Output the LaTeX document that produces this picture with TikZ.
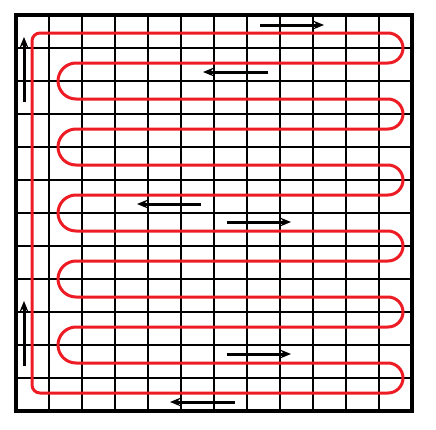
\documentclass[tikz,border=0pt]{standalone}
\usetikzlibrary{arrows.meta}
\definecolor{pipered}{HTML}{ED1C24}
\tikzset{
  gridline/.style={line width=1.5pt, black},
  frameline/.style={line width=3pt, black},
  pipe/.style={line width=2.25pt, pipered, line join=round},
  flowarrow/.style={line width=2.25pt, black, -{Stealth[length=8pt,width=6.5pt]}},
}
\begin{document}
\begin{tikzpicture}[x=0.75pt,y=0.75pt]
\fill[white] (0,0) rectangle (436,-429);
\useasboundingbox (0,0) rectangle (436,-429);
% grid
\foreach \i in {1,...,11}{
  \draw[gridline] ({16+33*\i},-15) -- ({16+33*\i},-411);
  \draw[gridline] (16,{-15-33*\i}) -- (412,{-15-33*\i});
}
\draw[frameline] (16,-15) rectangle (412,-411);
% heating pipe
\draw[pipe] (32,-385) -- (32,-41) arc[start angle=180,end angle=90,radius=6pt]
  -- (388,-33) arc[start angle=90,end angle=-90,radius=11.25pt]
  -- (76,-63) arc[start angle=90,end angle=270,radius=13.5pt]
  -- (388,-99) arc[start angle=90,end angle=-90,radius=11.25pt]
  -- (76,-129) arc[start angle=90,end angle=270,radius=13.5pt]
  -- (388,-165) arc[start angle=90,end angle=-90,radius=11.25pt]
  -- (76,-195) arc[start angle=90,end angle=270,radius=13.5pt]
  -- (388,-231) arc[start angle=90,end angle=-90,radius=11.25pt]
  -- (76,-261) arc[start angle=90,end angle=270,radius=13.5pt]
  -- (388,-297) arc[start angle=90,end angle=-90,radius=11.25pt]
  -- (76,-327) arc[start angle=90,end angle=270,radius=13.5pt]
  -- (388,-363) arc[start angle=90,end angle=-90,radius=11.25pt]
  -- (40,-393) arc[start angle=270,end angle=180,radius=6pt] -- cycle;
% flow arrows
\coordinate (a1s) at (260,-25);  \coordinate (a1e) at (324,-25);
\coordinate (a2s) at (268,-72);  \coordinate (a2e) at (203,-72);
\coordinate (a3s) at (201,-204); \coordinate (a3e) at (137,-204);
\coordinate (a4s) at (227,-222); \coordinate (a4e) at (291,-222);
\coordinate (a5s) at (227,-354); \coordinate (a5e) at (291,-354);
\coordinate (a6s) at (235,-402); \coordinate (a6e) at (170,-402);
\coordinate (a7s) at (24,-102);  \coordinate (a7e) at (24,-37);
\coordinate (a8s) at (24,-366);  \coordinate (a8e) at (24,-301);
\foreach \k in {1,...,8}{\draw[flowarrow] (a\k s) -- (a\k e);}
\end{tikzpicture}
\end{document}
